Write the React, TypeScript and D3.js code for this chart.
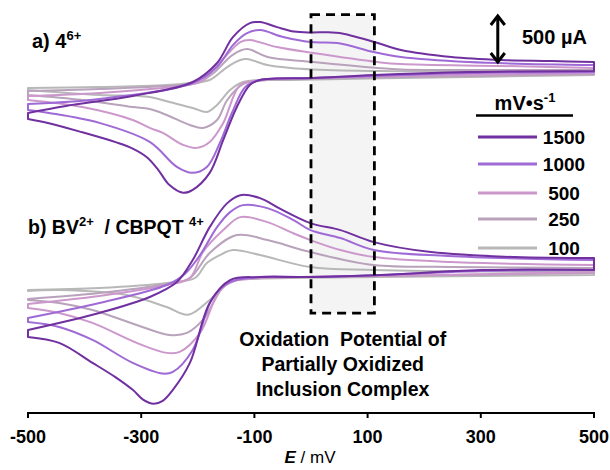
import React from "react";
import * as d3 from "d3";

type Pt = [number, number];

// scan rates (mV/s) and their colours, fastest first
const scanRates = ["1500", "1000", "500", "250", "100"];
const rateColors = ["#7030a0", "#9f6ad6", "#cc98cc", "#b9a2bb", "#b8b8b8"];
const xTicks = [-500, -300, -100, 100, 300, 500];

// panel a) 4(6+) — [E (mV), i (uA)]; forward sweep then reverse sweep
const aFwd1500: Pt[] = [[-500, -343], [-433, -270], [-315, -166], [-209, -21], [-166, 177], [-138, 447], [-108, 593], [-90, 603], [-60, 551], [-30, 505], [0, 495], [30, 497], [55, 485], [85, 440], [118, 385], [159, 312], [248, 239], [337, 208], [425, 198], [500, 187]];
const aRev1500: Pt[] = [[500, 94], [278, 83], [111, 52], [4, 21], [-90, 0], [-108, -52], [-131, -281], [-155, -624], [-179, -967], [-209, -1144], [-226, -1175], [-250, -1095], [-270, -935], [-290, -805], [-315, -715], [-344, -650], [-404, -545], [-463, -450], [-500, -406]];
const aFwd1000: Pt[] = [[-500, -250], [-374, -198], [-209, -31], [-166, 135], [-138, 364], [-113, 489], [-90, 520], [-49, 447], [-1, 395], [47, 385], [111, 291], [159, 239], [278, 187], [500, 156]];
const aRev1000: Pt[] = [[500, 83], [278, 73], [111, 42], [4, 21], [-90, 0], [-116, -73], [-139, -333], [-161, -655], [-184, -905], [-210, -967], [-237, -905], [-285, -645], [-374, -447], [-463, -343], [-500, -312]];
const aFwd500: Pt[] = [[-500, -166], [-374, -135], [-209, -42], [-191, 0], [-157, 208], [-125, 395], [-108, 416], [-60, 343], [4, 281], [118, 187], [159, 166], [337, 146], [500, 125]];
const aRev500: Pt[] = [[500, 73], [159, 42], [4, 21], [-90, 0], [-125, -52], [-155, -447], [-179, -645], [-202, -707], [-226, -676], [-262, -551], [-285, -499], [-315, -416], [-404, -281], [-500, -208]];
const aFwd250: Pt[] = [[-500, -114], [-374, -94], [-209, -42], [-196, -21], [-170, 83], [-139, 260], [-113, 322], [-77, 239], [4, 187], [118, 125], [159, 110], [337, 104], [500, 104]];
const aRev250: Pt[] = [[500, 62], [159, 31], [-19, 10], [-77, 0], [-120, -42], [-148, -208], [-166, -416], [-191, -499], [-214, -468], [-255, -364], [-285, -302], [-315, -281], [-404, -208], [-500, -156]];
const aFwd100: Pt[] = [[-500, -83], [-374, -73], [-255, -52], [-214, -31], [-179, 0], [-148, 135], [-125, 208], [-113, 218], [-77, 156], [-36, 125], [4, 110], [118, 94], [337, 94], [500, 94]];
const aRev100: Pt[] = [[500, 52], [159, 21], [-36, 0], [-77, 0], [-120, -21], [-143, -104], [-166, -260], [-184, -333], [-209, -291], [-250, -229], [-285, -177], [-374, -156], [-500, -104]];

// panel b) BV(2+) / CBPQT(4+)
const bFwd1500: Pt[] = [[-500, -541], [-374, -364], [-285, -198], [-237, -42], [-209, 187], [-179, 530], [-148, 780], [-125, 863], [-90, 832], [-54, 720], [-1, 572], [52, 499], [111, 374], [212, 270], [360, 218], [500, 208]];
const bRev1500: Pt[] = [[500, 83], [301, 83], [123, 31], [-1, 10], [-90, 10], [-143, -21], [-179, -260], [-214, -884], [-244, -1165], [-262, -1280], [-278, -1310], [-296, -1270], [-315, -1165], [-345, -1035], [-386, -884], [-445, -676], [-500, -614]];
const bFwd1000: Pt[] = [[-500, -416], [-374, -260], [-255, -73], [-223, 42], [-196, 239], [-166, 530], [-143, 686], [-120, 759], [-77, 728], [-31, 603], [-1, 499], [52, 416], [111, 291], [242, 229], [500, 187]];
const bRev1000: Pt[] = [[500, 83], [301, 73], [123, 31], [-1, 10], [-90, 10], [-143, -42], [-173, -198], [-209, -749], [-244, -978], [-262, -995], [-315, -884], [-386, -645], [-445, -510], [-500, -458]];
const bFwd500: Pt[] = [[-500, -270], [-374, -187], [-255, -73], [-214, 0], [-191, 270], [-155, 499], [-125, 634], [-77, 582], [-36, 478], [-1, 395], [52, 291], [111, 218], [248, 166], [500, 135]];
const bRev500: Pt[] = [[500, 62], [123, 21], [-19, 10], [-90, 0], [-135, -31], [-161, -125], [-196, -572], [-232, -770], [-255, -780], [-308, -676], [-386, -468], [-445, -364], [-500, -312]];
const bFwd250: Pt[] = [[-500, -218], [-374, -156], [-255, -62], [-214, 0], [-179, 260], [-131, 447], [-77, 395], [-1, 270], [111, 135], [250, 115], [500, 104]];
const bRev250: Pt[] = [[500, 52], [123, 21], [-19, 10], [-108, -10], [-148, -52], [-191, -437], [-219, -572], [-250, -593], [-298, -510], [-386, -333], [-445, -260], [-500, -229]];
const bFwd100: Pt[] = [[-500, -125], [-374, -104], [-255, -52], [-205, 0], [-184, 156], [-161, 239], [-138, 291], [-90, 239], [-1, 114], [111, 83], [500, 62]];
const bRev100: Pt[] = [[500, 31], [123, 10], [-36, 0], [-116, -10], [-138, -21], [-179, -229], [-217, -382], [-255, -302], [-326, -177], [-445, -125], [-500, -135]];

const panelA = [
  [aFwd1500, aRev1500],
  [aFwd1000, aRev1000],
  [aFwd500, aRev500],
  [aFwd250, aRev250],
  [aFwd100, aRev100],
];
const panelB = [
  [bFwd1500, bRev1500],
  [bFwd1000, bRev1000],
  [bFwd500, bRev500],
  [bFwd250, bRev250],
  [bFwd100, bRev100],
];

// highlighted potential window (mV) and scale bar (uA)
const boxRange = [0, 112];
const scaleBarE = 330;
const scaleBarRange = [177, 677];

const W = 610;
const H = 470;
const FONT = "'Liberation Sans', Arial, Helvetica, sans-serif";

const App = () => {
  const x = d3.scaleLinear().domain([-500, 500]).range([28, 594]);
  // 500 uA = 48 px, one baseline per panel
  const yA = d3.scaleLinear().domain([0, 500]).range([80, 32]);
  const yB = d3.scaleLinear().domain([0, 500]).range([278, 230]);
  const axisY = 413;

  const makeLine = (y: d3.ScaleLinear<number, number>) =>
    d3
      .line<Pt>()
      .x((d) => x(d[0]))
      .y((d) => y(d[1]))
      .curve(d3.curveCatmullRom.alpha(0.5));
  const lineA = makeLine(yA);
  const lineB = makeLine(yB);

  // each sweep is smoothed on its own, then joined with straight switching segments
  const loop = (gen: d3.Line<Pt>, fwd: Pt[], rev: Pt[]) =>
    (gen(fwd) || "") + (gen(rev) || "").replace(/^M/, "L") + "Z";

  const boxX0 = x(boxRange[0]);
  const boxX1 = x(boxRange[1]);
  const boxY0 = yA(680);
  const boxY1 = yB(-365);

  const sbX = x(scaleBarE);
  const sbTop = yA(scaleBarRange[1]);
  const sbBot = yA(scaleBarRange[0]);

  const legendY = [137, 164, 193, 219, 248];

  // draw slowest first so the fastest scan sits on top
  const order = [4, 3, 2, 1, 0];

  return (
    <svg
      width={W}
      height={H}
      style={{ position: "absolute", left: 0, top: 0, background: "#fff" }}
      fontFamily={FONT}
    >
      <rect
        x={boxX0}
        y={boxY0}
        width={boxX1 - boxX0}
        height={boxY1 - boxY0}
        fill="#f4f4f4"
      />

      {order.map((i) => (
        <path
          key={"a" + i}
          d={loop(lineA, panelA[i][0], panelA[i][1])}
          fill="none"
          stroke={rateColors[i]}
          strokeWidth={2}
          strokeLinejoin="round"
        />
      ))}
      {order.map((i) => (
        <path
          key={"b" + i}
          d={loop(lineB, panelB[i][0], panelB[i][1])}
          fill="none"
          stroke={rateColors[i]}
          strokeWidth={2}
          strokeLinejoin="round"
        />
      ))}

      <rect
        x={boxX0}
        y={boxY0}
        width={boxX1 - boxX0}
        height={boxY1 - boxY0}
        fill="none"
        stroke="#000"
        strokeWidth={2.8}
        strokeDasharray="9 6"
      />

      {/* scale bar */}
      <line x1={sbX} x2={sbX} y1={sbTop + 1} y2={sbBot - 1} stroke="#000" strokeWidth={3} />
      <polyline
        points={`${sbX - 7},${sbTop + 10} ${sbX},${sbTop + 1} ${sbX + 7},${sbTop + 10}`}
        fill="none"
        stroke="#000"
        strokeWidth={3}
      />
      <polyline
        points={`${sbX - 7},${sbBot - 10} ${sbX},${sbBot - 1} ${sbX + 7},${sbBot - 10}`}
        fill="none"
        stroke="#000"
        strokeWidth={3}
      />
      <text x={522} y={44} fontSize={20} fontWeight="bold">
        500 µA
      </text>

      {/* panel labels */}
      <text x={32} y={48} fontSize={20} fontWeight="bold">
        a) 4
        <tspan fontSize={13} dy={-8}>
          6+
        </tspan>
      </text>
      <text x={28} y={234} fontSize={19.5} fontWeight="bold">
        b) BV
        <tspan fontSize={13} dy={-8}>
          2+
        </tspan>
        <tspan dy={8}>{"\u00a0 / CBPQT "}</tspan>
        <tspan fontSize={13} dy={-8}>
          4+
        </tspan>
      </text>

      {/* legend */}
      <text x={525} y={110} fontSize={20} fontWeight="bold" textAnchor="middle">
        mV•s
        <tspan fontSize={13} dy={-8}>
          -1
        </tspan>
      </text>
      <line x1={476} x2={573} y1={115.5} y2={115.5} stroke="#000" strokeWidth={2.5} />
      {scanRates.map((r, i) => (
        <g key={r}>
          <line
            x1={478}
            x2={537}
            y1={legendY[i]}
            y2={legendY[i]}
            stroke={rateColors[i]}
            strokeWidth={3}
          />
          <text
            x={564}
            y={legendY[i] + 7}
            fontSize={19}
            fontWeight="bold"
            textAnchor="middle"
          >
            {r}
          </text>
        </g>
      ))}

      {/* annotation */}
      <g fontSize={19.5} fontWeight="bold" textAnchor="middle">
        <text x={(boxX0 + boxX1) / 2} y={346} style={{ whiteSpace: "pre" }}>
          {"Oxidation  Potential of"}
        </text>
        <text x={(boxX0 + boxX1) / 2} y={371}>
          Partially Oxidized
        </text>
        <text x={(boxX0 + boxX1) / 2} y={396}>
          Inclusion Complex
        </text>
      </g>

      {/* x axis */}
      <line x1={x(-500)} x2={x(500)} y1={axisY} y2={axisY} stroke="#000" strokeWidth={2} />
      {xTicks.map((t) => (
        <g key={t}>
          <line x1={x(t)} x2={x(t)} y1={axisY - 1} y2={axisY + 5} stroke="#000" strokeWidth={2} />
          <text
            x={x(t)}
            y={443}
            fontSize={18}
            fontWeight="bold"
            textAnchor="middle"
            fontFamily="'Liberation Sans Narrow', 'Arial Narrow', 'Liberation Sans', sans-serif"
          >
            {t}
          </text>
        </g>
      ))}
      <text x={310} y={463} fontSize={17} textAnchor="middle">
        <tspan fontStyle="italic" fontWeight="bold">
          E
        </tspan>
        {" / mV"}
      </text>
    </svg>
  );
};

export default App;
